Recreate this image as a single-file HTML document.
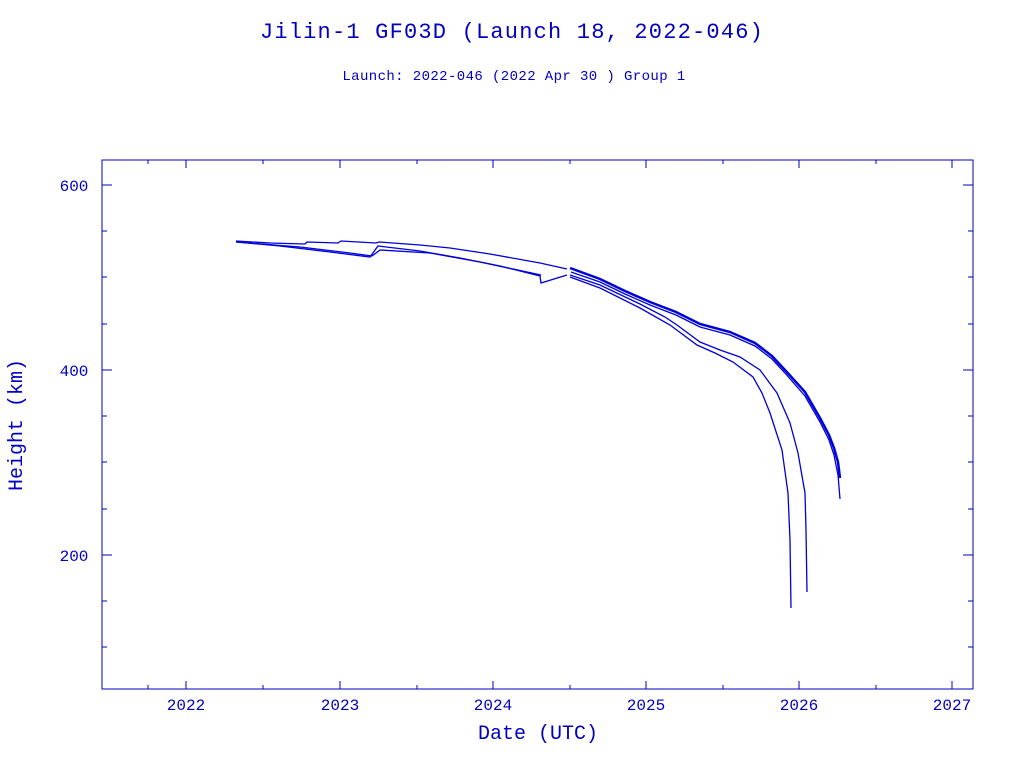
<!DOCTYPE html>
<html><head><style>body{margin:0;background:#fff}svg{display:block}</style></head><body>
<svg width="1024" height="768" xmlns="http://www.w3.org/2000/svg" font-family="'DejaVu Serif','Liberation Serif',serif" fill="#0000c0">
<text x="512" y="38" text-anchor="middle" font-size="22" letter-spacing="1.2" font-family="'Liberation Mono','DejaVu Sans Mono',monospace">Jilin-1 GF03D (Launch 18, 2022-046)</text>
<text x="514" y="80" text-anchor="middle" font-size="14" letter-spacing="0.4" font-family="'Liberation Mono','DejaVu Sans Mono',monospace">Launch: 2022-046  (2022 Apr 30 )  Group 1</text>
<rect x="102" y="160" width="871" height="529" fill="none" stroke="#0000c0" stroke-width="1"/>
<g stroke="#0000c0" stroke-width="1">
<path d="M186,689v-8M340,689v-8M493,689v-8M646,689v-8M799,689v-8M952,689v-8M186,160v8M340,160v8M493,160v8M646,160v8M799,160v8M952,160v8
M148,689v-4M263,689v-4M417,689v-4M570,689v-4M723,689v-4M876,689v-4M148,160v4M263,160v4M417,160v4M570,160v4M723,160v4M876,160v4
M102,185h10M102,370h10M102,555h10M973,185h-10M973,370h-10M973,555h-10
M102,231h5M102,277h5M102,324h5M102,416h5M102,462h5M102,509h5M102,601h5M102,647h5
M973,231h-5M973,277h-5M973,324h-5M973,416h-5M973,462h-5M973,509h-5M973,601h-5M973,647h-5"/>
</g>
<g font-size="16" text-anchor="middle" font-family="'Liberation Mono','DejaVu Sans Mono',monospace">
<text x="186" y="710">2022</text><text x="340" y="710">2023</text><text x="493" y="710">2024</text><text x="646" y="710">2025</text><text x="799" y="710">2026</text><text x="952" y="710">2027</text>
<text x="74" y="191">600</text><text x="74" y="376">400</text><text x="74" y="561">200</text>
</g>
<text x="538" y="739" text-anchor="middle" font-size="20" font-family="'Liberation Mono','DejaVu Sans Mono',monospace">Date (UTC)</text>
<text transform="translate(22,425) rotate(-90)" text-anchor="middle" font-size="20" font-family="'Liberation Mono','DejaVu Sans Mono',monospace">Height (km)</text>
<g fill="none" stroke="#0000d8" stroke-width="1.3">
<polyline points="236,241 270,243 305,244 307,242 338,243 341,241 376,243 379,242 420,245 450,248 490,254 540,263 567,269"/>
<polyline points="236,242 280,246 330,252 370,257 378,246 420,251 460,258 500,266 540,276 541,283 567,275"/>
<polyline points="236,242 300,247 350,253 372,256 380,250 430,253 480,262 541,275"/>
<polyline stroke-width="2.5" points="570,268 600,279 625,291 650,302 676,312 700,324 730,332 755,343 772,356 785,370 805,392 820,418 829,435 834,448 838,462 840,478"/>
<polyline points="571,272 600,282 625,294 650,305 676,315 700,327 730,335 755,346 772,359 785,373 805,396 820,422 829,440 834,455 838,475 840,499"/>
<polyline points="570,275 600,285 640,304 665,317 677,325 700,342 720,350 740,357 760,370 777,393 790,423 798,453 805,493 806,530 807,592"/>
<polyline points="570,277 600,288 640,308 670,325 697,345 715,353 733,362 753,377 762,393 770,413 782,450 788,493 790,540 791,608"/>
</g>
</svg>
</body></html>
